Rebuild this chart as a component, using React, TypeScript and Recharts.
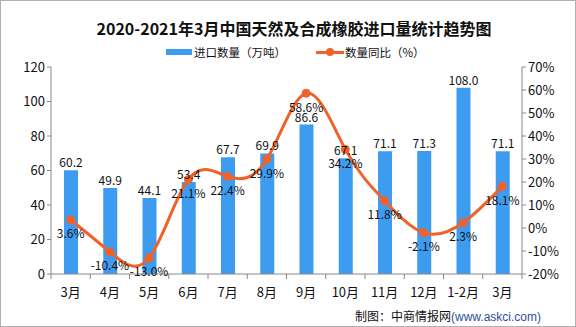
import {
  ComposedChart,
  Bar,
  Line,
  XAxis,
  YAxis,
  LabelList,
} from "recharts";

const months = ["3月", "4月", "5月", "6月", "7月", "8月", "9月", "10月", "11月", "12月", "1-2月", "3月"];
const importVolume = [60.2, 49.9, 44.1, 53.4, 67.7, 69.9, 86.6, 67.1, 71.1, 71.3, 108.0, 71.1];
const yoyChange = [3.6, -10.4, -13.0, 21.1, 22.4, 29.9, 58.6, 34.2, 11.8, -2.1, 2.3, 18.1];
const leftTicks = [0, 20, 40, 60, 80, 100, 120];
const rightTicks = [-20, -10, 0, 10, 20, 30, 40, 50, 60, 70];

const data = months.map((m, i) => ({
  month: m,
  volume: importVolume[i],
  yoy: yoyChange[i],
}));

const BLUE = "#3d9cf0";
const ORANGE = "#f0622a";
const AXIS = "#888888";
const FONT = '"Noto Sans CJK SC", "Noto Sans", sans-serif';

function MonthTick(props: any) {
  const { x, y, payload, index } = props;
  const half = 471 / 12 / 2;
  return (
    <g>
      <line x1={x - half} y1={y - 8} x2={x - half} y2={y - 3} stroke={AXIS} />
      {index === months.length - 1 && (
        <line x1={x + half} y1={y - 8} x2={x + half} y2={y - 3} stroke={AXIS} />
      )}
      <text x={x} y={y + 15} textAnchor="middle" fontSize={13} fill="#111" fontFamily={FONT}>
        {payload.value}
      </text>
    </g>
  );
}

export default function App() {
  return (
    <div
      style={{
        position: "relative",
        width: 576,
        height: 327,
        background: "#fff",
        fontFamily: FONT,
        boxSizing: "border-box",
        border: "1px solid #b0b0b0",
      }}
    >
      <style>{`body{margin:0}`}</style>
      <div
        style={{
          position: "absolute",
          top: 16,
          left: 0,
          width: 586,
          textAlign: "center",
          fontSize: 16,
          fontWeight: "bold",
          color: "#111",
          lineHeight: "22px",
        }}
      >
        2020-2021年3月中国天然及合成橡胶进口量统计趋势图
      </div>
      <div style={{ position: "absolute", top: 43, left: 165, fontSize: 11.5, color: "#111", lineHeight: "16px" }}>
        <span style={{ position: "absolute", left: 0, top: 5, width: 26, height: 6, background: BLUE }} />
        <span style={{ position: "absolute", left: 28, top: 0, whiteSpace: "nowrap" }}>进口数量（万吨）</span>
        <span style={{ position: "absolute", left: 150, top: 7, width: 28, height: 3, background: ORANGE }} />
        <span
          style={{ position: "absolute", left: 160, top: 4, width: 8, height: 8, borderRadius: 4, background: ORANGE }}
        />
        <span style={{ position: "absolute", left: 179, top: 0, whiteSpace: "nowrap" }}>数量同比（%）</span>
      </div>
      <div style={{ position: "absolute", left: 0, top: 0 }}>
        <ComposedChart
          width={574}
          height={325}
          data={data}
          margin={{ top: 66, right: 0, bottom: 22, left: 0 }}
        >
          <XAxis
            dataKey="month"
            xAxisId={0}
            tick={<MonthTick />}
            tickLine={false}
            axisLine={{ stroke: AXIS }}
            interval={0}
            height={30}
          />
          <YAxis
            yAxisId="left"
            domain={[0, 120]}
            ticks={leftTicks}
            width={50}
            tick={{ fill: "#111", fontSize: 13, fontFamily: FONT }}
            axisLine={{ stroke: AXIS }}
            tickLine={{ stroke: AXIS }}
            tickSize={4}
          />
          <YAxis
            yAxisId="right"
            orientation="right"
            domain={[-20, 70]}
            ticks={rightTicks}
            width={53}
            tick={{ fill: "#111", fontSize: 13, fontFamily: FONT }}
            tickFormatter={(v: number) => `${v}%`}
            axisLine={{ stroke: AXIS }}
            tickLine={{ stroke: AXIS }}
            tickSize={4}
          />
          <Bar yAxisId="left" dataKey="volume" fill={BLUE} barSize={14} isAnimationActive={false}>
            <LabelList
              dataKey="volume"
              position="top"
              offset={3}
              fontSize={12}
              fill="#111"
              fontFamily={FONT}
              formatter={(v: number) => v.toFixed(1)}
            />
          </Bar>
          <Line
            yAxisId="right"
            dataKey="yoy"
            type="natural"
            stroke={ORANGE}
            strokeWidth={3}
            dot={{ r: 4, fill: ORANGE, stroke: ORANGE, strokeWidth: 1 }}
            isAnimationActive={false}
          >
            <LabelList
              dataKey="yoy"
              position="bottom"
              offset={10}
              fontSize={12}
              fill="#111"
              fontFamily={FONT}
              formatter={(v: number) => `${v.toFixed(1)}%`}
            />
          </Line>
        </ComposedChart>
      </div>
      <div
        style={{
          position: "absolute",
          top: 307,
          left: 354,
          fontSize: 12,
          color: "#111",
          whiteSpace: "nowrap",
          lineHeight: "16px",
        }}
      >
        制图：中商情报网
        <span style={{ color: "#2f4d9a", fontFamily: '"Liberation Sans", Arial, sans-serif' }}>(www.askci.com)</span>
      </div>
    </div>
  );
}
